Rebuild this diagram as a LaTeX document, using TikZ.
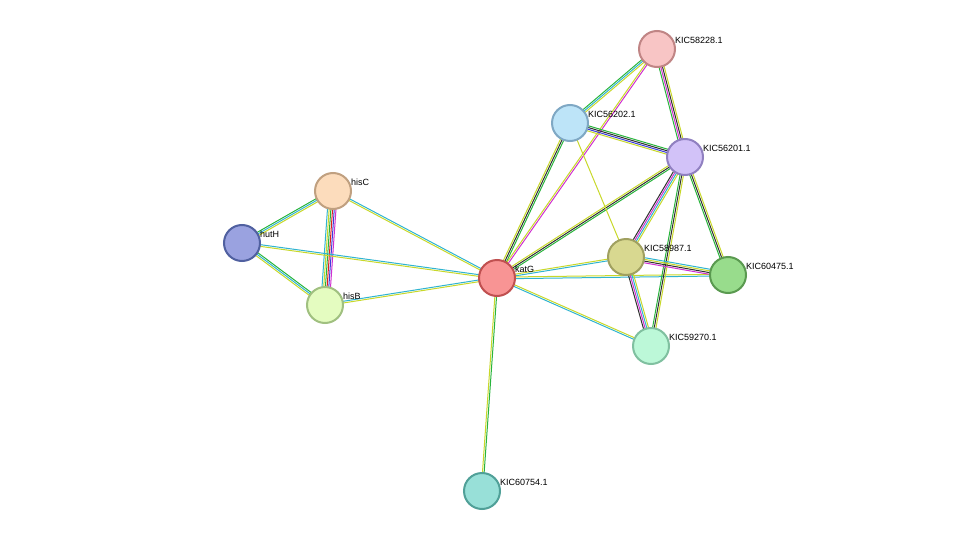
\documentclass[tikz,border=0pt]{standalone}
\usepackage{fontspec}
\setmainfont{Liberation Sans}
\usetikzlibrary{calc}
\definecolor{tm}{HTML}{C8D82A}
\definecolor{db}{HTML}{30B4D0}
\definecolor{nb}{HTML}{28B43C}
\definecolor{ex}{HTML}{D030D0}
\definecolor{co}{HTML}{3C3CDC}
\definecolor{fu}{HTML}{E02020}
\definecolor{cx}{HTML}{303030}
% parallel coloured links between two named proteins
\newcommand{\link}[4]{%
  \foreach \c [count=\i] in {#4} {
    \pgfmathsetmacro\off{(\i-(#3+1)/2)*1.7}
    \draw[\c, line width=1pt]
      ($(#1)!\off pt!90:(#2)$) -- ($(#2)!\off pt!-90:(#1)$);}}
\begin{document}
\begin{tikzpicture}[x=1pt, y=-1pt,
  prot/.style = {circle, minimum size=36pt, inner sep=0pt, line width=2pt},
  lbl/.style = {font=\fontsize{9}{10}\selectfont, anchor=south west, inner sep=1pt}]
  \useasboundingbox (0,0) rectangle (975,538);
  % proteins
  \coordinate (p58228) at (657,49);
  \coordinate (p56202) at (570,123);
  \coordinate (p56201) at (685,157);
  \coordinate (hisC) at (333,191);
  \coordinate (hutH) at (242,243);
  \coordinate (katG) at (497,278);
  \coordinate (p58987) at (626,257);
  \coordinate (p60475) at (728,275);
  \coordinate (hisB) at (325,305);
  \coordinate (p59270) at (651,346);
  \coordinate (p60754) at (482,491);
  % links
  \link{hutH}{hisC}{3}{tm,db,nb}
  \link{hutH}{hisB}{3}{tm,db,nb}
  \link{hisC}{hisB}{6}{db,tm,nb,fu,co,ex}
  \link{hutH}{katG}{2}{tm,db}
  \link{hisC}{katG}{2}{tm,db}
  \link{hisB}{katG}{2}{tm,db}
  \link{katG}{p60754}{2}{tm,nb}
  \link{katG}{p56202}{3}{nb,cx,tm}
  \link{katG}{p58228}{2}{ex,tm}
  \link{katG}{p56201}{3}{nb,cx,tm}
  \link{katG}{p58987}{2}{db,tm}
  \link{katG}{p60475}{2}{db,tm}
  \link{katG}{p59270}{2}{db,tm}
  \link{p56202}{p58228}{3}{tm,db,nb}
  \link{p56202}{p56201}{4}{tm,co,cx,nb}
  \link{p56202}{p58987}{1}{tm}
  \link{p58228}{p56201}{4}{nb,ex,cx,tm}
  \link{p56201}{p58987}{4}{cx,ex,db,tm}
  \link{p56201}{p60475}{3}{nb,cx,tm}
  \link{p56201}{p59270}{3}{nb,cx,tm}
  \link{p58987}{p60475}{4}{ex,cx,tm,db}
  \link{p58987}{p59270}{4}{cx,ex,db,tm}
  % nodes on top
  \foreach \n/\f/\d/\t in {
      p58228/F8C5C5/C08585/KIC58228.1, p56202/BDE4F8/7FA8C4/KIC56202.1,
      p56201/D2C2F8/9080C0/KIC56201.1, hisC/FCDCBC/C0A080/hisC,
      hutH/9AA2E0/5060A0/hutH, katG/F89494/C05050/katG,
      p58987/D8D890/A0A060/KIC58987.1, p60475/98DC8C/5A9A50/KIC60475.1,
      hisB/E4FCC0/A0C080/hisB, p59270/BCF8D8/80C0A0/KIC59270.1,
      p60754/98E0D8/50A098/KIC60754.1} {
    \definecolor{fc}{HTML}{\f}\definecolor{dc}{HTML}{\d}
    \node[prot, fill=fc, draw=dc] (n\n) at (\n) {};
    \node[lbl] at ($(\n)+(17,-4)$) {\t};
  }
\end{tikzpicture}
\end{document}
